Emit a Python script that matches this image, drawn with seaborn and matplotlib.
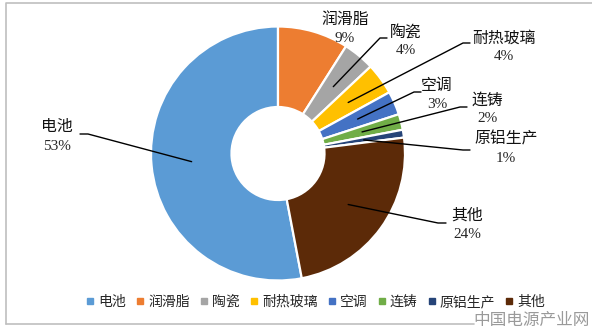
import numpy as np
import matplotlib
matplotlib.use("Agg")
import matplotlib.pyplot as plt
from matplotlib.lines import Line2D
import seaborn as sns

# Share of consumption by application
categories = ["电池", "润滑脂", "陶瓷", "耐热玻璃", "空调", "连铸", "原铝生产", "其他"]
shares = [53, 9, 4, 4, 3, 2, 1, 24]
pct_labels = ["53%", "9%", "4%", "4%", "3%", "2%", "1%", "24%"]

colors = ["#5B9BD5", "#ED7D31", "#A5A5A5", "#FFC000",
          "#4472C4", "#70AD47", "#264478", "#5C2A08"]

sns.set_theme(style="white")
plt.rcParams["font.family"] = ["Noto Sans CJK SC", "DejaVu Sans"]

W, H = 592, 332
fig = plt.figure(figsize=(W / 100, H / 100), dpi=100)
ax = fig.add_axes([0, 0, 1, 1])

# pixel-style coordinates: y measured from the top
def py(y):
    return H - y

cx, cy, R = 278, py(153.5), 127
hole = 46.5

# first slice ends at 12 o'clock, slices run clockwise
wedges, _ = ax.pie(shares, colors=colors, startangle=90 + 360 * shares[0] / 100,
                   counterclock=False, center=(cx, cy), radius=R,
                   wedgeprops=dict(width=R - hole, edgecolor="white", linewidth=1.6))
ax.set_xlim(0, W)
ax.set_ylim(0, H)
ax.set_aspect("equal")
ax.axis("off")

# label block centres and leader elbows (x, y from top)
label_pos = [(57, 136), (345, 28), (406, 41), (504, 47), (437, 94), (487, 109), (506, 148), (467, 224)]
elbows = [((88, 134), (80, 134)), None, ((380, 38), (387, 38)), ((463, 43), (470, 43)),
          ((414, 92), (421, 92)), ((460, 107), (467, 107)), ((463, 150), (470, 150)),
          ((438, 223), (446, 223))]

r_mid = (R + hole) / 2
for w, name, pct, pos, el in zip(wedges, categories, pct_labels, label_pos, elbows):
    ang = np.deg2rad((w.theta1 + w.theta2) / 2)
    ax_, ay_ = cx + r_mid * np.cos(ang), cy + r_mid * np.sin(ang)
    if el is not None:
        (ex, ey), (tx, ty) = el
        ax.plot([ax_, ex, tx], [ay_, py(ey), py(ty)], color="black", lw=1.0,
                solid_joinstyle="round", zorder=5)
    lx, ly = pos
    ax.text(lx, py(ly - 9), name, ha="center", va="center", fontsize=11.4, color="#111111")
    ax.text(lx, py(ly + 10), pct, ha="center", va="center", fontsize=11,
            family="Liberation Serif", color="#262626")

# chart frame
ax.plot([6, 6, W], [py(324), py(3), py(3)], color="#BFBFBF", lw=1.2, clip_on=False)
ax.plot([6, 474], [py(324), py(324)], color="#BFBFBF", lw=1.2)

# legend
handles = [Line2D([], [], marker="s", linestyle="none", markersize=5,
                  markerfacecolor=c, markeredgecolor=c) for c in colors]
leg = ax.legend(handles, categories, loc="center", bbox_to_anchor=(316 / W, 1 - 302 / H),
                ncol=8, frameon=False, fontsize=10, handlelength=0.5, handletextpad=0.35,
                columnspacing=0.75, borderpad=0)

# watermark
ax.text(590, py(320), "中国电源产业网", ha="right", va="center", fontsize=12,
        color="#9A9A9A")

fig.savefig("out.png", dpi=100)
